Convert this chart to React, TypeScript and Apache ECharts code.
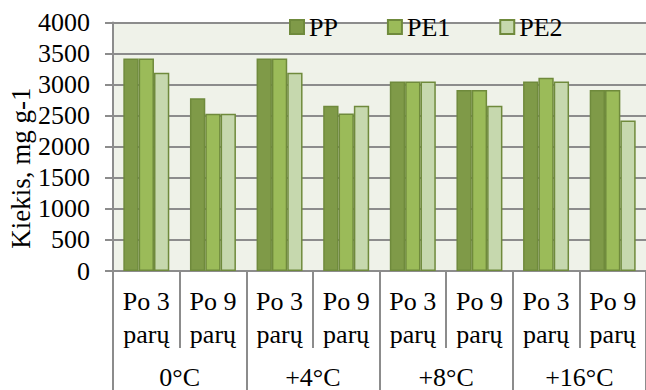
import React, { useEffect, useRef } from "react";
import * as echarts from "echarts";

const subCategories = ["Po 3\nparų", "Po 9\nparų", "Po 3\nparų", "Po 9\nparų", "Po 3\nparų", "Po 9\nparų", "Po 3\nparų", "Po 9\nparų"];
const groups = ["0°C", "+4°C", "+8°C", "+16°C"];
const seriesNames = ["PP", "PE1", "PE2"];
const ppValues = [3420, 2780, 3420, 2660, 3050, 2915, 3050, 2915];
const pe1Values = [3420, 2530, 3420, 2535, 3050, 2915, 3112, 2915];
const pe2Values = [3193, 2530, 3193, 2658, 3050, 2658, 3050, 2422];
const yTicks = { min: 0, max: 4000, interval: 500 };

const FONT = "Liberation Serif";
const FS = 26;
const colors = ["#7f9a48", "#9bbb59", "#c6d8ae"];
const borderColor = "#6f8a3c";

export default function App() {
  const ref = useRef<HTMLDivElement>(null);
  useEffect(() => {
    document.body.style.margin = "0";
    if (!ref.current) return;
    const chart = echarts.init(ref.current, undefined, { renderer: "svg" });
    const values = [ppValues, pe1Values, pe2Values];
    chart.setOption({
      animation: false,
      textStyle: { fontFamily: FONT },
      grid: {
        left: 113,
        top: 22.5,
        width: 544,
        bottom: 118.5,
        show: true,
        backgroundColor: "#eff2e9",
        borderWidth: 0,
      },
      legend: {
        data: seriesNames,
        left: 289,
        top: 14,
        padding: 0,
        itemWidth: 14,
        itemHeight: 14,
        itemGap: 49,
        icon: "rect",
        textStyle: { fontFamily: FONT, fontSize: FS, color: "#000" },
      },
      xAxis: [
        {
          type: "category",
          data: subCategories,
          position: "bottom",
          axisLine: { show: true, lineStyle: { color: "#8c8c8c", width: 2 } },
          axisTick: { show: true, interval: 0, length: 77, lineStyle: { color: "#8c8c8c", width: 2 } },
          axisLabel: {
            interval: 0,
            margin: 14,
            fontFamily: FONT,
            fontSize: FS,
            lineHeight: 33,
            color: "#000",
          },
          splitLine: { show: false },
        },
        {
          type: "category",
          data: groups,
          position: "bottom",
          axisLine: { show: false },
          axisTick: { show: true, interval: 0, length: 120, lineStyle: { color: "#8c8c8c", width: 2 } },
          axisLabel: {
            interval: 0,
            margin: 93,
            fontFamily: FONT,
            fontSize: FS,
            color: "#000",
          },
          splitLine: { show: false },
        },
      ],
      yAxis: {
        type: "value",
        min: yTicks.min,
        max: yTicks.max,
        interval: yTicks.interval,
        axisLine: { show: true, lineStyle: { color: "#8c8c8c", width: 2 } },
        axisTick: { show: true, length: 8, lineStyle: { color: "#8c8c8c", width: 2 } },
        axisLabel: {
          margin: 23,
          fontFamily: FONT,
          fontSize: FS,
          color: "#000",
          formatter: (v: number) => String(v),
        },
        splitLine: { show: true, lineStyle: { color: "#8c8c8c", width: 2 } },
      },
      graphic: [
        {
          type: "text",
          x: 21,
          y: 168,
          rotation: Math.PI / 2,
          style: {
            text: "Kiekis, mg g-1",
            fontFamily: FONT,
            fontSize: 27,
            fill: "#000",
            textAlign: "center",
            textVerticalAlign: "middle",
          },
        },
      ],
      series: seriesNames.map((name, i) => ({
        name,
        type: "bar",
        xAxisIndex: 0,
        data: values[i],
        barGap: "0%",
        barCategoryGap: "31%",
        itemStyle: { color: colors[i], borderColor, borderWidth: 1.5 },
        emphasis: { disabled: true },
      })),
    });
    return () => chart.dispose();
  }, []);
  return <div ref={ref} style={{ width: 646, height: 390 }} />;
}
